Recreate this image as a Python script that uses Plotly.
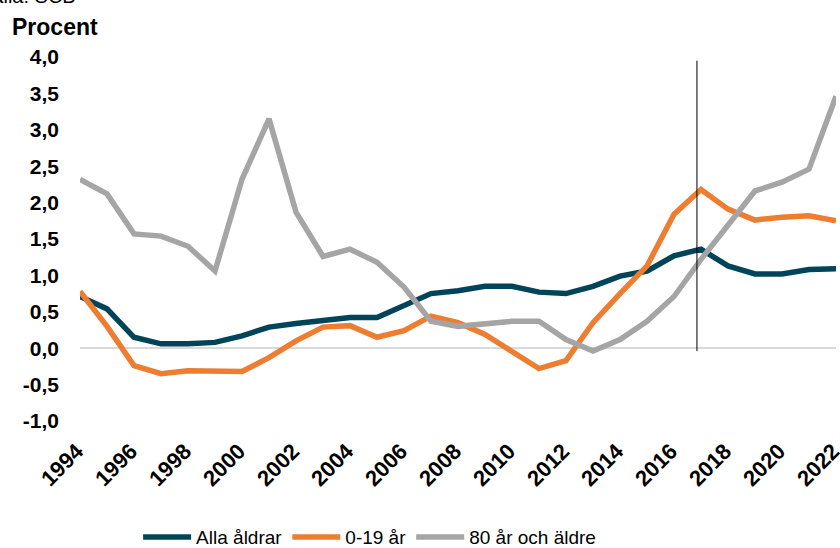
import plotly.graph_objects as go

years = list(range(1994, 2023))
alla = [0.71, 0.54, 0.15, 0.06, 0.06, 0.08, 0.17, 0.29, 0.34, 0.38, 0.42, 0.42, 0.58, 0.75, 0.79,
        0.85, 0.85, 0.77, 0.75, 0.85, 0.99, 1.06, 1.27, 1.36, 1.13, 1.02, 1.02, 1.08, 1.09]
unga = [0.78, 0.30, -0.24, -0.35, -0.31, -0.31, -0.32, -0.13, 0.10, 0.29, 0.31, 0.15, 0.24, 0.44, 0.35,
        0.19, -0.04, -0.28, -0.17, 0.35, 0.75, 1.13, 1.84, 2.18, 1.91, 1.76, 1.80, 1.82, 1.75]
aldre = [2.32, 2.12, 1.57, 1.54, 1.40, 1.06, 2.32, 3.15, 1.87, 1.26, 1.36, 1.18, 0.84, 0.37, 0.30,
         0.34, 0.37, 0.37, 0.12, -0.04, 0.12, 0.37, 0.71, 1.22, 1.70, 2.16, 2.28, 2.46, 3.46]
series_names = ["Alla åldrar", "0-19 år", "80 år och äldre"]
series_colors = ["#00445A", "#ED7D31", "#A5A5A5"]
x_ticks = list(range(1994, 2023, 2))
y_ticks = [4.0, 3.5, 3.0, 2.5, 2.0, 1.5, 1.0, 0.5, 0.0, -0.5, -1.0]
y_ticktext = ["4,0", "3,5", "3,0", "2,5", "2,0", "1,5", "1,0", "0,5", "0,0", "-0,5", "-1,0"]
vline_year = 2016.85

FONT = "Liberation Sans, Arial, sans-serif"

fig = go.Figure()
for name, vals, col in zip(series_names, [alla, unga, aldre], series_colors):
    fig.add_trace(go.Scatter(x=years, y=vals, name=name, mode="lines",
                             line=dict(color=col, width=5.5)))

fig.add_shape(type="line", xref="x", yref="y", x0=vline_year, x1=vline_year, y0=-0.04, y1=3.95,
              line=dict(color="black", width=1))

fig.add_annotation(text="Procent", xref="paper", yref="paper", x=-0.093, y=1.0, yshift=30,
                   xanchor="left", yanchor="middle", showarrow=False,
                   font=dict(family=FONT, size=23, color="black", weight="bold"))
fig.add_annotation(text="Källa: SCB", xref="paper", yref="paper", x=-0.003, y=1.0, yshift=48,
                   xanchor="right", yanchor="bottom", showarrow=False,
                   font=dict(family=FONT, size=20, color="black"))

fig.update_layout(
    width=840, height=548,
    margin=dict(l=80, r=4, t=57, b=127),
    paper_bgcolor="white", plot_bgcolor="white",
    font=dict(family=FONT, color="black"),
    showlegend=True,
    legend=dict(orientation="h", x=0.44, xref="container", xanchor="center",
                y=0.02, yref="container", yanchor="middle",
                itemwidth=48,
                font=dict(family=FONT, size=19, color="black"),
                traceorder="normal"),
    xaxis=dict(range=[1994, 2022], tickvals=x_ticks, ticktext=[str(t) for t in x_ticks],
               tickangle=-45, showgrid=False, zeroline=False, showline=False,
               automargin=False, ticklabelstandoff=12, ticklabelshift=-3,
               ticklabeloverflow="allow",
               tickfont=dict(family=FONT, size=22, color="black", weight="bold")),
    yaxis=dict(range=[-1, 4], tickvals=y_ticks, ticktext=y_ticktext,
               showgrid=False, zeroline=True, zerolinecolor="#D9D9D9", zerolinewidth=1.5,
               showline=False, ticklabelstandoff=20, automargin=False,
               tickfont=dict(family=FONT, size=21, color="black", weight="bold")),
)

fig.write_html("out.html", config={"displayModeBar": False},
               post_script="document.body.style.margin='0';")
